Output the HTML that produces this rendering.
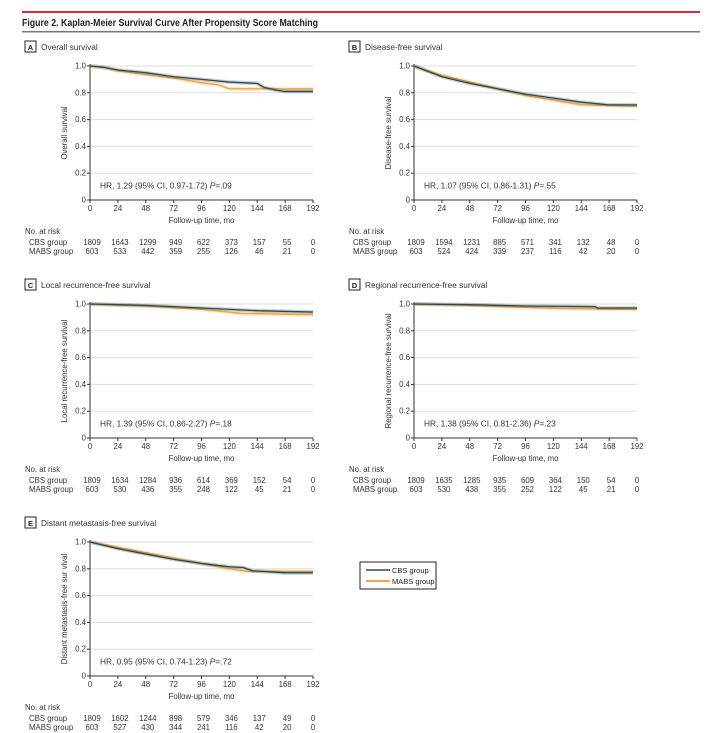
<!DOCTYPE html>
<html><head><meta charset="utf-8"><style>
html,body{margin:0;padding:0;background:#fff;}
svg{display:block;font-family:"Liberation Sans",sans-serif;}
</style></head><body>
<svg id="s" width="718" height="733" viewBox="0 0 718 733" xmlns="http://www.w3.org/2000/svg">
<rect x="22" y="11" width="678" height="2" fill="#e2263c"/>
<text x="22" y="26" font-size="10.5" font-weight="bold" fill="#222" textLength="296" lengthAdjust="spacingAndGlyphs">Figure 2. Kaplan-Meier Survival Curve After Propensity Score Matching</text>
<rect x="22" y="31" width="678" height="1.5" fill="#777"/>
<g id="g"></g>
<rect x="360" y="562" width="76" height="27" fill="#fff" stroke="#222" stroke-width="1"/>
<line x1="366" y1="570" x2="390" y2="570" stroke="#2b4a52" stroke-width="1.5"/>
<line x1="366" y1="581" x2="390" y2="581" stroke="#f7a53a" stroke-width="2"/>
<text x="392" y="573" font-size="7.5" fill="#222">CBS group</text>
<text x="392" y="584" font-size="7.5" fill="#222">MABS group</text>
</svg>
<script>
var NS="http://www.w3.org/2000/svg",G=document.getElementById('g');
function el(t,a,txt){var e=document.createElementNS(NS,t);for(var k in a)e.setAttribute(k,a[k]);if(txt!=null)e.textContent=txt;G.appendChild(e);return e;}
function panel(dx,dy,letter,title,ylab,hr,p,cbs,mabs,nc,nm){
 var x0=90+dx,x1=313+dx,y1=66+dy,y0=200+dy;
 var X=function(m){return x0+(x1-x0)*m/192},Y=function(v){return y0-(y0-y1)*v};
 el('rect',{x:25+dx,y:41+dy,width:11,height:11,fill:'#fff',stroke:'#222','stroke-width':1});
 el('text',{x:30.5+dx,y:50+dy,'font-size':7.5,'font-weight':'bold','text-anchor':'middle',fill:'#222'},letter);
 el('text',{x:41+dx,y:50+dy,'font-size':8.3,fill:'#333'},title);
 for(var i=1;i<=5;i++){el('line',{x1:x0,x2:x1,y1:Y(i/5),y2:Y(i/5),stroke:'#ddd','stroke-width':1});}
 el('line',{x1:x0,x2:x0,y1:y1-2,y2:y0,stroke:'#333','stroke-width':1});
 el('line',{x1:x0,x2:x1,y1:y0,y2:y0,stroke:'#333','stroke-width':1});
 var yl=['0','0.2','0.4','0.6','0.8','1.0'];
 for(i=0;i<=5;i++){var yy=Y(i/5);el('line',{x1:x0-3,x2:x0,y1:yy,y2:yy,stroke:'#333'});el('text',{x:x0-4,y:yy+2.5,'font-size':7.8,'text-anchor':'end',fill:'#333'},yl[i]);}
 for(i=0;i<=8;i++){var xx=X(i*24);el('line',{x1:xx,x2:xx,y1:y0,y2:y0+3,stroke:'#333'});el('text',{x:xx,y:y0+11,'font-size':7.8,'text-anchor':'middle',fill:'#333'},String(i*24));
  el('text',{x:i==8?xx:xx+2,y:y0+45,'font-size':7.8,'text-anchor':'middle',fill:'#333'},String(nc[i]));
  el('text',{x:i==8?xx:xx+2,y:y0+54,'font-size':7.8,'text-anchor':'middle',fill:'#333'},String(nm[i]));}
 el('text',{x:(x0+x1)/2,y:y0+23,'font-size':7.8,'text-anchor':'middle',fill:'#333'},'Follow-up time, mo');
 el('text',{x:25+dx,y:y0+34,'font-size':7.8,fill:'#333'},'No. at risk');
 el('text',{x:29+dx,y:y0+45,'font-size':7.8,fill:'#333'},'CBS group');
 el('text',{x:29+dx,y:y0+54,'font-size':7.8,fill:'#333'},'MABS group');
 el('text',{transform:'translate('+(67+dx)+','+((y0+y1)/2)+') rotate(-90)','font-size':7.8,'text-anchor':'middle',fill:'#333'},ylab);
 var t=el('text',{x:x0+10,y:Y(0.1)+2,'font-size':8.3,fill:'#333'},hr+' ');
 var ts=document.createElementNS(NS,'tspan');ts.setAttribute('font-style','italic');ts.textContent='P';t.appendChild(ts);t.appendChild(document.createTextNode(p));
 function line(pts,c,w){var s='';pts.forEach(function(q){s+=X(q[0])+','+Y(q[1])+' '});
  el('polyline',{points:s,fill:'none',stroke:c,'stroke-width':w+2.5,'stroke-opacity':0.25});
  el('polyline',{points:s,fill:'none',stroke:c,'stroke-width':w});}
 line(mabs,'#f7a53a',1.4);line(cbs,'#2b4a52',1.3);
}
panel(0,0,'A','Overall survival','Overall survival','HR, 1.29 (95% CI, 0.97-1.72)','=.09',
 [[0,1],[12,0.99],[24,0.97],[48,0.95],[72,0.92],[96,0.9],[120,0.88],[144,0.87],[150,0.84],[160,0.82],[168,0.81],[192,0.81]],
 [[0,1],[12,0.99],[24,0.965],[48,0.935],[72,0.91],[96,0.875],[110,0.86],[120,0.83],[192,0.83]],
 [1809,1643,1299,949,622,373,157,55,0],[603,533,442,359,255,126,46,21,0]);
panel(324,0,'B','Disease-free survival','Disease-free survival','HR, 1.07 (95% CI, 0.86-1.31)','=.55',
 [[0,1],[12,0.96],[24,0.92],[48,0.87],[72,0.83],[96,0.79],[120,0.76],[144,0.73],[168,0.71],[192,0.71]],
 [[0,1],[12,0.965],[24,0.93],[48,0.88],[72,0.83],[96,0.78],[120,0.745],[144,0.71],[192,0.70]],
 [1809,1594,1231,885,571,341,132,48,0],[603,524,424,339,237,116,42,20,0]);
panel(0,238,'C','Local recurrence-free survival','Local recurrence-free survival','HR, 1.39 (95% CI, 0.86-2.27)','=.18',
 [[0,1],[48,0.99],[96,0.97],[144,0.95],[192,0.94]],
 [[0,1],[48,0.985],[96,0.96],[130,0.93],[192,0.92]],
 [1809,1634,1284,936,614,369,152,54,0],[603,530,436,355,248,122,45,21,0]);
panel(324,238,'D','Regional recurrence-free survival','Regional recurrence-free survival','HR, 1.38 (95% CI, 0.81-2.36)','=.23',
 [[0,1],[48,0.995],[96,0.985],[156,0.98],[158,0.97],[192,0.97]],
 [[0,1],[48,0.99],[96,0.975],[130,0.965],[192,0.96]],
 [1809,1635,1285,935,609,364,150,54,0],[603,530,438,355,252,122,45,21,0]);
panel(0,476,'E','Distant metastasis-free survival','Distant metastasis-free sur vival','HR, 0.95 (95% CI, 0.74-1.23)','=.72',
 [[0,1],[24,0.95],[48,0.91],[72,0.87],[96,0.84],[120,0.815],[132,0.81],[140,0.785],[168,0.77],[192,0.77]],
 [[0,1],[24,0.96],[48,0.92],[72,0.88],[96,0.84],[120,0.80],[136,0.78],[192,0.78]],
 [1809,1602,1244,898,579,346,137,49,0],[603,527,430,344,241,116,42,20,0]);
</script>
</body></html>
